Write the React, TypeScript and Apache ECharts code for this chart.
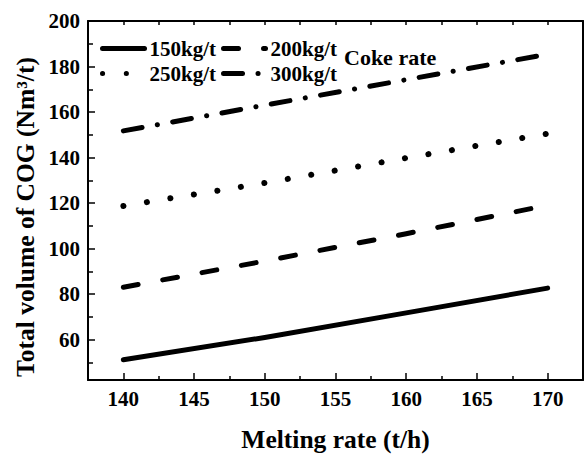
import React, { useEffect, useRef } from "react";
import * as echarts from "echarts";

const meltingRates = [140, 150, 160, 170];
const coke150 = [51.1, 60.9, 71.7, 82.6];
const coke200 = [83, 94.5, 106.5, 119];
const coke250 = [118.7, 128.8, 139.8, 150.5];
const coke300 = [151.7, 163, 174.2, 185.4];
const seriesNames = ["150kg/t", "200kg/t", "250kg/t", "300kg/t"];
const xTickValues = [140, 145, 150, 155, 160, 165, 170];
const xMinorTicks = [142.5, 147.5, 152.5, 157.5, 162.5, 167.5];
const xTopTicks = [140, 142.5, 145, 147.5, 150, 152.5, 155, 157.5, 160, 162.5, 165, 167.5, 170];
const yTickValues = [60, 80, 100, 120, 140, 160, 180, 200];
const yMinorTicks = [50, 70, 90, 110, 130, 150, 170, 190];

const FONT = "'Liberation Serif', 'Times New Roman', serif";

export default function App() {
  const ref = useRef<HTMLDivElement>(null);
  useEffect(() => {
    if (!ref.current) return;
    const chart = echarts.init(ref.current, null, { renderer: "svg" });
    const pairs = (ys: number[]) => meltingRates.map((x, i) => [x, ys[i]]);
    const mk = (name: string, ys: number[], type: any, width = 5) => ({
      name,
      type: "line",
      data: pairs(ys),
      xAxisIndex: 0,
      yAxisIndex: 0,
      symbol: "none",
      showSymbol: false,
      itemStyle: { color: "#000" },
      lineStyle: { color: "#000", width, cap: "round", join: "round", type },
    });
    const xCommon = { type: "value", min: 137.5, max: 172.5, splitLine: { show: false } };
    const yCommon = { type: "value", min: 42.2, max: 200, splitLine: { show: false } };
    const legendText = { fontFamily: FONT, fontWeight: "bold", fontSize: 21, color: "#000" };
    const legendCommon = {
      left: 100,
      padding: 0,
      itemWidth: 42,
      itemHeight: 14,
      itemGap: 5,
      selectedMode: false,
      textStyle: legendText,
      lineStyle: { width: 5, cap: "round" },
      itemStyle: { color: "rgba(0,0,0,0)", borderColor: "rgba(0,0,0,0)", borderWidth: 0, opacity: 0 },
    };
    chart.setOption({
      animation: false,
      backgroundColor: "#fff",
      grid: { left: 88, right: 1, top: 21, bottom: 70, containLabel: false },
      legend: [
        { ...legendCommon, data: [seriesNames[0], seriesNames[1]], top: 38 },
        { ...legendCommon, data: [seriesNames[2], seriesNames[3]], top: 63 },
      ],
      xAxis: [
        {
          ...xCommon,
          position: "bottom",
          name: "Melting rate (t/h)",
          nameLocation: "middle",
          nameGap: 46,
          nameTextStyle: { fontFamily: FONT, fontWeight: "bold", fontSize: 25.5, color: "#000" },
          axisLine: { show: true, lineStyle: { color: "#000", width: 2 } },
          axisTick: { show: true, inside: true, length: 7, customValues: xTickValues, lineStyle: { color: "#000", width: 1.5 } },
          axisLabel: { customValues: xTickValues, margin: 8, fontFamily: FONT, fontWeight: "bold", fontSize: 21, color: "#000" },
        },
        {
          ...xCommon,
          position: "bottom",
          axisLine: { show: false },
          axisTick: { show: true, inside: true, length: 4, customValues: xMinorTicks, lineStyle: { color: "#000", width: 1.5 } },
          axisLabel: { show: false },
        },
        {
          ...xCommon,
          position: "top",
          axisLine: { show: true, lineStyle: { color: "#000", width: 2 } },
          axisTick: { show: true, inside: true, length: 4, customValues: xTopTicks, lineStyle: { color: "#000", width: 1.5 } },
          axisLabel: { show: false },
        },
      ],
      yAxis: [
        {
          ...yCommon,
          position: "left",
          axisLine: { show: true, lineStyle: { color: "#000", width: 2 } },
          axisTick: { show: true, inside: true, length: 7, customValues: yTickValues, lineStyle: { color: "#000", width: 1.5 } },
          axisLabel: { customValues: yTickValues, margin: 8, fontFamily: FONT, fontWeight: "bold", fontSize: 21, color: "#000" },
        },
        {
          ...yCommon,
          position: "left",
          axisLine: { show: false },
          axisTick: { show: true, inside: true, length: 5, customValues: yMinorTicks, lineStyle: { color: "#000", width: 1.5 } },
          axisLabel: { show: false },
        },
        {
          ...yCommon,
          position: "right",
          axisLine: { show: true, lineStyle: { color: "#000", width: 2 } },
          axisTick: { show: false },
          axisLabel: { show: false },
        },
      ],
      graphic: [
        {
          type: "text",
          left: 344,
          top: 46,
          style: { text: "Coke rate", fontFamily: FONT, fontWeight: "bold", fontSize: 22, fill: "#000" },
        },
        {
          type: "text",
          x: 25,
          y: 217,
          rotation: Math.PI / 2,
          style: {
            text: "Total volume of COG (Nm³/t)",
            fontFamily: FONT,
            fontWeight: "bold",
            fontSize: 25.5,
            fill: "#000",
            align: "center",
            verticalAlign: "middle",
          },
        },
      ],
      series: [
        mk(seriesNames[0], coke150, "solid"),
        mk(seriesNames[1], coke200, [15, 25]),
        mk(seriesNames[2], coke250, [0.1, 23.7], 6),
        mk(seriesNames[3], coke300, [19, 15.5, 0.1, 15.5]),
      ],
    });
    return () => chart.dispose();
  }, []);
  return <div ref={ref} style={{ position: "fixed", left: 0, top: 0, width: 584, height: 457 }} />;
}
